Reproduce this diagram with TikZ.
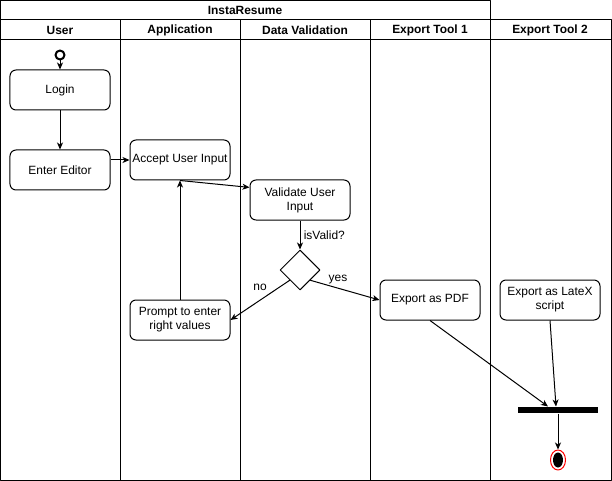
\documentclass[tikz,border=0pt]{standalone}
\usepackage{fontspec}
\setmainfont{Liberation Sans}
\usetikzlibrary{shapes.geometric,arrows.meta}
\begin{document}
\begin{tikzpicture}[>={Stealth[length=7bp,width=6bp,inset=2bp]},line join=bevel,x=1bp,y=-1bp,
  act/.style={draw,rounded corners=6bp,minimum width=100bp,minimum height=40bp,
    align=center,inner sep=1bp,font=\fontsize{12}{14}\selectfont},
  decision/.style={draw,diamond,minimum width=40bp,minimum height=40bp,inner sep=0bp},
  head/.style={font=\bfseries\fontsize{12}{14}\selectfont},
  lbl/.style={font=\fontsize{12}{14}\selectfont}]
  \pgfsetlinewidth{1bp}
  \useasboundingbox (0,0) rectangle (612,481);
%%
  % Pool: InstaResume
  \draw (0.5,0.5) rectangle (490,20);
  \draw (0.5,20) rectangle (611,480);
  \draw (0.5,40) -- (611,40);
  \foreach \x in {120,240,370,490} \draw (\x,20) -- (\x,480);
  \node[head] (pool) at (245,10) {InstaResume};
  % Lanes
  \node[head] (user) at (60,30) {User};
  \node[head] (app) at (180,30) {Application};
  \node[head] (data) at (305,30) {Data Validation};
  \node[head] (tool1) at (430,30) {Export Tool 1};
  \node[head] (tool2) at (550,30) {Export Tool 2};
  % Node: start
  \node[circle,draw,line width=2bp,minimum size=9bp,inner sep=0bp] (start) at (60,55) {};
  % Node: Login
  \node[act] (login) at (60,90) {Login};
  % Node: Enter Editor
  \node[act] (editor) at (60,170) {Enter Editor};
  % Node: Accept User Input
  \node[act] (accept) at (180,160) {Accept User Input};
  % Node: Validate User Input
  \node[act] (validate) at (300,200) {Validate User\\Input};
  % Node: isValid?
  \node[decision] (valid) at (300,270) {};
  % Node: Prompt to enter right values
  \node[act] (prompt) at (180,320) {Prompt to enter\\right values};
  % Node: Export as PDF
  \node[act] (pdf) at (430,300) {Export as PDF};
  % Node: Export as LateX script
  \node[act] (latex) at (550,300) {Export as LateX\\script};
  % Node: join
  \node[fill,minimum width=80bp,minimum height=6bp,inner sep=0bp] (join) at (558,410) {};
  % Node: end
  \node[ellipse,draw=red,minimum width=15bp,minimum height=20bp,inner sep=0bp] (final) at (558,460) {};
  \node[ellipse,fill,minimum width=10bp,minimum height=15bp,inner sep=0bp] (finaldot) at (final) {};
%%
  % Edge: start -> Login
  \draw [->] (start) -- (login);
  % Edge: Login -> Enter Editor
  \draw [->] (login) -- (editor);
  % Edge: Enter Editor -> Accept User Input
  \draw [->] (editor.east |- accept) -- (accept);
  % Edge: Accept User Input -> Validate User Input
  \draw [->] (accept.south) -- (validate.166);
  % Edge: Validate User Input -> isValid?
  \draw [->] (validate) -- node[lbl,right] {isValid?} (valid);
  % Edge: isValid? -> Export as PDF
  \draw [->] (valid.south east) -- node[lbl,above,pos=0.4] {yes} (pdf.west);
  % Edge: isValid? -> Prompt to enter right values
  \draw [->] (valid.south west) -- node[lbl,above=6bp,pos=0.5] {no} (prompt.east);
  % Edge: Prompt to enter right values -> Accept User Input
  \draw [->] (prompt) -- (accept);
  % Edge: Export as PDF -> join
  \draw [->] (pdf.south) -- ([xshift=-10bp]join.north);
  % Edge: Export as LateX script -> join
  \draw [->] (latex.south) -- ([xshift=-2bp]join.north);
  % Edge: join -> end
  \draw [->] (join) -- (final);
%
\end{tikzpicture}
\end{document}
